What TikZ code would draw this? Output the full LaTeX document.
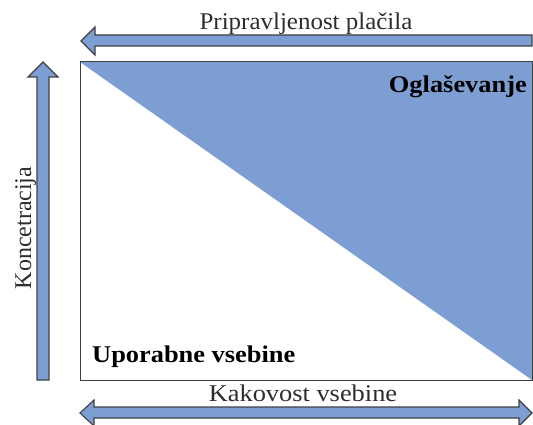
\documentclass[tikz,border=0pt]{standalone}
\usepackage{fontspec}
\setmainfont{Liberation Serif}
\newfontfamily\serifwide[FakeStretch=1.1]{Liberation Serif}
\newfontfamily\serifmid[FakeStretch=1.04]{Liberation Serif}
\begin{document}
\definecolor{areablue}{RGB}{124,158,211}
\definecolor{edgegray}{RGB}{64,64,64}
\definecolor{labelgray}{RGB}{45,45,45}
\begin{tikzpicture}[x=1pt,y=-1pt,
  arrowshape/.style={fill=areablue,draw=edgegray,line width=1.1pt,line join=miter},
  axislabel/.style={text=labelgray,inner sep=0pt},
  arealabel/.style={text=black,font=\serifwide\fontsize{24}{28}\selectfont\bfseries,inner sep=0pt}]
\useasboundingbox (0,0) rectangle (533,425);
% corner points of the chart area
\coordinate (tl) at (80,62);
\coordinate (tr) at (532,62);
\coordinate (bl) at (80,380);
\coordinate (br) at (532,380);
% chart frame with the shaded upper triangle
\fill[areablue] (tl) -- (tr) -- (br) -- cycle;
\draw[edgegray,line width=1pt] (tl) rectangle (br);
% top arrow, pointing left
\draw[arrowshape] (81,41) -- (95,27) -- (95,35) -- (532,35) -- (532,46) -- (95,46) -- (95,55) -- cycle;
% left arrow, pointing up
\draw[arrowshape] (43,62) -- (58,77) -- (49,77) -- (49,380) -- (37,380) -- (37,77) -- (28,77) -- cycle;
% bottom arrow, pointing both ways
\draw[arrowshape] (80,413) -- (94,400) -- (94,407) -- (519,407) -- (519,400) -- (532,413) -- (519,426) -- (519,418) -- (94,418) -- (94,426) -- cycle;
% labels
\node[axislabel,font=\serifmid\fontsize{24}{28}\selectfont,anchor=base] (pay) at (306,30) {Pripravljenost plačila};
\node[axislabel,font=\serifwide\fontsize{24}{28}\selectfont,anchor=base] (quality) at (303,401) {Kakovost vsebine};
\node[axislabel,font=\fontsize{24}{28}\selectfont,anchor=base,rotate=90] (conc) at (31,228) {Koncetracija};
\node[arealabel,anchor=base west] (useful) at (92,362) {Uporabne vsebine};
\node[arealabel,anchor=base east] (ads) at (527,93) {Oglaševanje};
\end{tikzpicture}
\end{document}
